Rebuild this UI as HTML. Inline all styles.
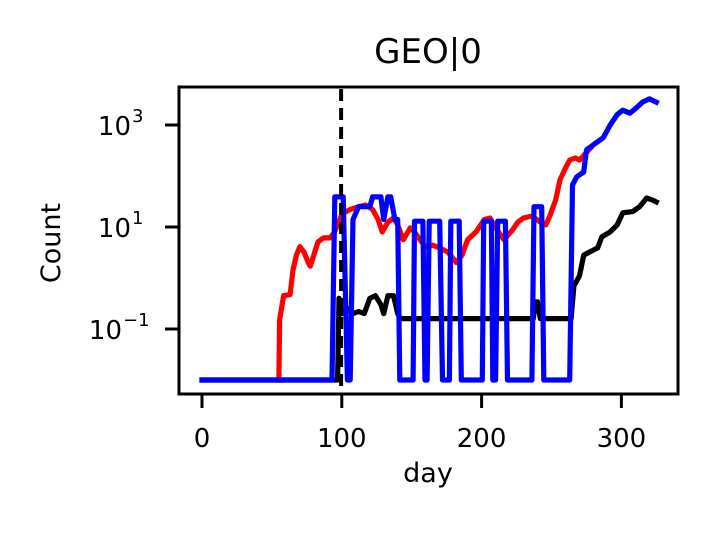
<!DOCTYPE html>
<html><head><meta charset="utf-8"><style>
body{margin:0;background:#fff;}
svg text{font-family:"DejaVu Sans","Liberation Sans",sans-serif;fill:#000;}
</style></head><body>
<svg id="chart" width="708" height="531" xmlns="http://www.w3.org/2000/svg">
<rect width="708" height="531" fill="#fff"/>
<text x="428" y="63" style="font-size:34px" text-anchor="middle">GEO|0</text>
<g id="plot"></g>
<rect x="179" y="87" width="499" height="307" fill="none" stroke="#000" stroke-width="3"/>
<g id="axes"></g>
<text x="428" y="482" style="font-size:27px" text-anchor="middle">day</text>
<text transform="translate(60,243) rotate(-90)" style="font-size:27px" text-anchor="middle">Count</text>
</svg>
<script>
const xTicks = [0, 100, 200, 300];
const yTickExps = [3, 1, -1];
const markerDay = [99.5];
const redDays = [55,55.5,58.4,63,65,67.5,70,73,76,77.5,80,83,87,91.5,94.4,97,100,106,112,117,122,126,129,133,137,140,144,149,152,156,160,165,170,176,182,186,190,196,202,206,210,216,222,226,230,236,242,246,249,253,256,260,263,267,270,274,278];
const redVals = [0.01,0.15,0.45,0.47,1.4,2.8,4.1,3.2,2.0,1.7,2.8,5.1,6.1,6.1,7.6,11,18,22,25,27,22,14,8,12.5,15,11,5.6,9.6,8,5.6,3.9,4.4,3.9,3.2,2.0,2.8,5.6,8,14,15,9.6,5.6,8.7,12.5,15,16.4,12.5,11,17,34,83,144,205,225,205,270,355];
const blackDays = [0,97,98,100,104,108,112,116,120,124,128,130,133,137,140,142,237,238.5,240,242,264,266,270,273,277,283,286,292,297,301,308,313,318,322,325];
const blackVals = [0.01,0.01,0.4,0.2,0.25,0.2,0.22,0.2,0.4,0.45,0.3,0.2,0.45,0.45,0.2,0.16,0.16,0.34,0.34,0.16,0.16,0.7,1.1,2.8,3.2,3.9,6.4,8,11,19,20,25,37,34,31];
const blueDays = [0,93,95,101,104,106,108,112,120,122,128,130,133,135,138,140,141.5,151,152,158,159.5,161,162.5,170,172,177,178,184,185.5,200.5,201.5,207,208,210,211.5,217,218.5,236,237.5,243,244.5,263,265,268,273,275,282,287,292,297,301,306,311,315,320,325];
const blueVals = [0.01,0.01,39,39,0.01,0.01,14,25,25,39,39,14,39,39,14,14,0.01,0.01,13,13,0.01,0.01,13,13,0.01,0.01,13,13,0.01,0.01,13,13,0.01,0.01,13,13,0.01,0.01,25,25,0.01,0.01,67,96,120,325,450,560,1000,1600,1950,1700,2200,2800,3250,2800];

const NS='http://www.w3.org/2000/svg';
function xs(d){return 202 + d*1.398;}
function ys(v){return 227 - (Math.log10(v)-1)*51;}
const plot=document.getElementById('plot');
const axes=document.getElementById('axes');

function line(days, vals, color, name){
  const p=document.createElementNS(NS,'polyline');
  p.setAttribute('points', days.map((d,i)=>xs(d).toFixed(1)+','+ys(vals[i]).toFixed(1)).join(' '));
  p.setAttribute('fill','none');p.setAttribute('stroke',color);
  p.setAttribute('stroke-width','5.2');p.setAttribute('stroke-linejoin','round');p.setAttribute('stroke-linecap','square');
  
  
  plot.appendChild(p);
}
line(redDays, redVals, '#ff0000', 'series-red');
line(blackDays, blackVals, '#000000', 'series-black');
line(blueDays, blueVals, '#0000ff', 'series-blue');

markerDay.forEach(d=>{
  const l=document.createElementNS(NS,'line');
  l.setAttribute('x1',xs(d));l.setAttribute('x2',xs(d));l.setAttribute('y1',89);l.setAttribute('y2',393);
  l.setAttribute('stroke','#000');l.setAttribute('stroke-width','4');l.setAttribute('stroke-dasharray','12,7');
  
  
  plot.appendChild(l);
});

xTicks.forEach(t=>{
  const x=xs(t);
  const tk=document.createElementNS(NS,'line');
  tk.setAttribute('x1',x);tk.setAttribute('x2',x);tk.setAttribute('y1',394);tk.setAttribute('y2',408);
  tk.setAttribute('stroke','#000');tk.setAttribute('stroke-width','3');
  
  
  axes.appendChild(tk);
  const tx=document.createElementNS(NS,'text');
  tx.setAttribute('x',x);tx.setAttribute('y',447);tx.setAttribute('style','font-size:26px');tx.setAttribute('text-anchor','middle');
  tx.textContent=t;
  
  
  axes.appendChild(tx);
});
yTickExps.forEach(e=>{
  const y=ys(Math.pow(10,e));
  const tk=document.createElementNS(NS,'line');
  tk.setAttribute('x1',165);tk.setAttribute('x2',179);tk.setAttribute('y1',y);tk.setAttribute('y2',y);
  tk.setAttribute('stroke','#000');tk.setAttribute('stroke-width','3');
  
  
  axes.appendChild(tk);
  const sx = e<0 ? 122 : 131;
  const tx=document.createElementNS(NS,'text');
  tx.setAttribute('x',sx);tx.setAttribute('y',y+10);tx.setAttribute('style','font-size:26px');tx.setAttribute('text-anchor','end');
  tx.textContent='10';
  
  
  axes.appendChild(tx);
  const sp=document.createElementNS(NS,'text');
  sp.setAttribute('x',sx+1);sp.setAttribute('y',y-3);sp.setAttribute('style','font-size:18px');sp.setAttribute('text-anchor','start');
  sp.textContent=(e<0?'\u2212':'')+Math.abs(e);
  
  
  axes.appendChild(sp);
});
</script>
</body></html>
